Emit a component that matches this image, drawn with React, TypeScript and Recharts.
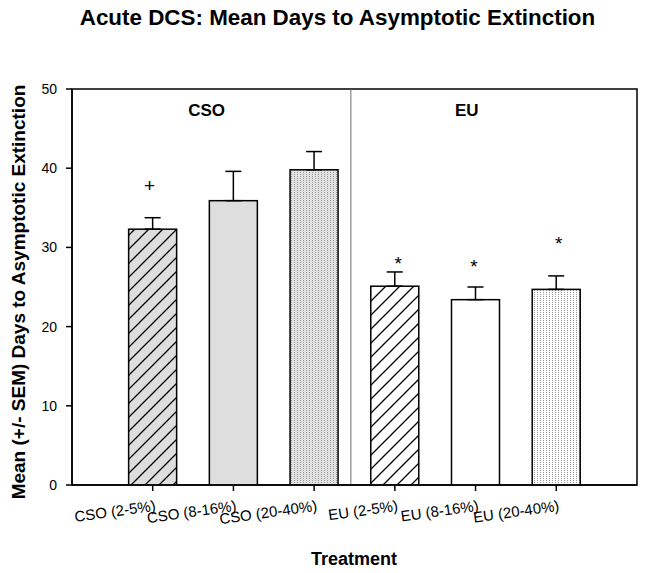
import React from 'react';
import {
  ComposedChart,
  Bar,
  XAxis,
  YAxis,
  ErrorBar,
  Scatter,
  ReferenceLine,
  ReferenceArea,
  Cell,
} from 'recharts';

// ---- data ----
const categories = ['CSO (2-5%)', 'CSO (8-16%)', 'CSO (20-40%)', 'EU (2-5%)', 'EU (8-16%)', 'EU (20-40%)'];
const positions = [1, 2, 3, 4, 5, 6];
const means = [32.3, 35.9, 39.8, 25.1, 23.4, 24.7];
const sems = [1.45, 3.7, 2.3, 1.8, 1.6, 1.7];
const fills = ['url(#hatchGray)', '#dedede', 'url(#dotsGray)', 'url(#hatchWhite)', '#ffffff', 'url(#dotsWhite)'];

const markerSymbols = ['+', '*', '*', '*'];
const markerX = [0.96, 4.04, 4.98, 6.03];
const markerY = [37.7, 28.5, 28.2, 31.1];

const groupLabels = ['CSO', 'EU'];
const groupX = [1.667, 4.89];
const groupY = [47.3, 47.3];

const yTicks = [0, 10, 20, 30, 40, 50];
const xDomain = [0, 7];
const yDomain = [0, 50];
const dividerX = 3.455;

const title = 'Acute DCS: Mean Days to Asymptotic Extinction';
const xTitle = 'Treatment';
const yTitle = 'Mean (+/- SEM) Days to Asymptotic Extinction';

const barData = positions.map((p, i) => ({
  x: p,
  mean: means[i],
  err: [0, sems[i]],
}));
const markerData = markerSymbols.map((s, i) => ({ x: markerX[i], y: markerY[i], sym: s }));
const groupData = groupLabels.map((s, i) => ({ x: groupX[i], y: groupY[i], sym: s }));

const FONT = '"Liberation Sans", Arial, Helvetica, sans-serif';
const BAR_W = 48;

const XTick = (props: any) => {
  const { x, y, payload } = props;
  const idx = positions.indexOf(payload.value);
  const label = idx >= 0 ? categories[idx] : '';
  return (
    <g transform={`translate(${x},${y + 7}) rotate(-8)`}>
      <text x={2} y={11} textAnchor="end" fontFamily={FONT} fontSize={15} fill="#000">
        {label}
      </text>
    </g>
  );
};

const BarShape = (props: any) => {
  const { x, y, width, height, fill } = props;
  const cx = x + width / 2;
  return (
    <rect
      x={cx - BAR_W / 2}
      y={y}
      width={BAR_W}
      height={height}
      fill={fill}
      stroke="#000"
      strokeWidth={1.5}
    />
  );
};

const MarkerShape = (props: any) => {
  const { cx, cy, payload } = props;
  const isStar = payload.sym === '*';
  return (
    <text
      x={cx}
      y={cy + (isStar ? 11 : 6)}
      textAnchor="middle"
      fontFamily={FONT}
      fontSize={isStar ? 19 : 19}
      fill="#000"
    >
      {payload.sym}
    </text>
  );
};

const GroupShape = (props: any) => {
  const { cx, cy, payload } = props;
  return (
    <text x={cx} y={cy + 6} textAnchor="middle" fontFamily={FONT} fontSize={17} fontWeight="bold" fill="#000">
      {payload.sym}
    </text>
  );
};

export default function App() {
  return (
    <div style={{ position: 'absolute', left: 0, top: 0, width: 649, height: 573, background: '#fff' }}>
      <ComposedChart
        width={649}
        height={573}
        data={barData}
        margin={{ top: 89, right: 12, bottom: 28, left: 0 }}
      >
        <defs>
          <pattern id="hatchGray" patternUnits="userSpaceOnUse" width="14" height="14">
            <rect width="14" height="14" fill="#dedede" />
            <path d="M-1,1 l2,-2 M0,14 l14,-14 M13,15 l2,-2" stroke="#000" strokeWidth="1.3" />
          </pattern>
          <pattern id="hatchWhite" patternUnits="userSpaceOnUse" width="14" height="14">
            <rect width="14" height="14" fill="#ffffff" />
            <path d="M-1,1 l2,-2 M0,14 l14,-14 M13,15 l2,-2" stroke="#000" strokeWidth="1.3" />
          </pattern>
          <pattern id="dotsGray" patternUnits="userSpaceOnUse" width="3" height="2">
            <rect width="3" height="2" fill="#e2e2e2" />
            <rect width="1" height="1" fill="#9a9a9a" />
          </pattern>
          <pattern id="dotsWhite" patternUnits="userSpaceOnUse" width="3" height="2">
            <rect width="3" height="2" fill="#ffffff" />
            <rect width="1" height="1" fill="#9a9a9a" />
          </pattern>
        </defs>
        <ReferenceArea
          x1={xDomain[0]}
          x2={xDomain[1]}
          y1={yDomain[0]}
          y2={yDomain[1]}
          fill="none"
          stroke="#000"
          strokeWidth={1.5}
          fillOpacity={0}
        />
        <ReferenceLine x={dividerX} stroke="#6e6e6e" strokeWidth={1} />
        <XAxis
          dataKey="x"
          type="number"
          domain={xDomain}
          ticks={positions}
          allowDataOverflow
          height={60}
          stroke="#000"
          strokeWidth={1.5}
          tickSize={6}
          tickLine={{ stroke: '#000', strokeWidth: 1.5 }}
          tick={<XTick />}
          interval={0}
        />
        <YAxis
          type="number"
          domain={yDomain}
          ticks={yTicks}
          width={72}
          stroke="#000"
          strokeWidth={1.5}
          tickSize={6}
          tickMargin={9}
          tickLine={{ stroke: '#000', strokeWidth: 1.5 }}
          tick={{ fill: '#000', fontFamily: FONT, fontSize: 14 }}
          allowDataOverflow
        />
        <Bar dataKey="mean" barSize={BAR_W} shape={<BarShape />} isAnimationActive={false}>
          {barData.map((d, i) => (
            <Cell key={i} fill={fills[i]} />
          ))}
          <ErrorBar dataKey="err" direction="y" width={8} stroke="#000" strokeWidth={1.5} />
        </Bar>
        <Scatter data={markerData} dataKey="y" shape={<MarkerShape />} isAnimationActive={false} />
        <Scatter data={groupData} dataKey="y" shape={<GroupShape />} isAnimationActive={false} />
      </ComposedChart>
      <svg
        width={649}
        height={573}
        style={{ position: 'absolute', left: 0, top: 0, pointerEvents: 'none' }}
      >
        <text x={337.5} y={25} textAnchor="middle" fontFamily={FONT} fontSize={22.4} fontWeight="bold" fill="#000">
          {title}
        </text>
        <text x={354} y={565} textAnchor="middle" fontFamily={FONT} fontSize={18} fontWeight="bold" fill="#000">
          {xTitle}
        </text>
        <text
          x={0}
          y={0}
          transform="translate(25,292) rotate(-90)"
          textAnchor="middle"
          fontFamily={FONT}
          fontSize={19}
          fontWeight="bold"
          fill="#000"
        >
          {yTitle}
        </text>
      </svg>
    </div>
  );
}
